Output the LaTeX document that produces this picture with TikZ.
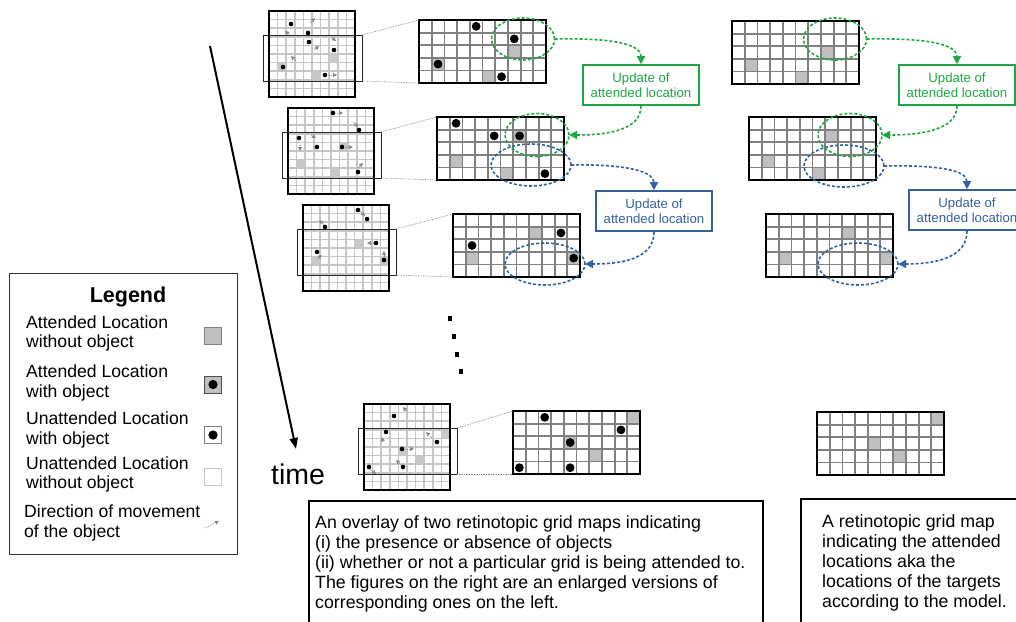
\documentclass[tikz,border=0pt]{standalone}
\usepackage{fontspec}
\setmainfont{Liberation Sans}
\usetikzlibrary{arrows.meta,shapes.geometric}
\definecolor{gline}{HTML}{7F7F7F}
\definecolor{cellg}{HTML}{BFBFBF}
\definecolor{sline}{HTML}{C6C6C6}
\definecolor{grn}{HTML}{1EA843}
\definecolor{blu}{HTML}{34629F}
\definecolor{arrg}{HTML}{8A8A8A}
\tikzset{
 bigframe/.style={draw=black, line width=1.8pt, minimum width=127pt, minimum height=63pt, inner sep=0pt, outer sep=0pt},
 smallframe/.style={draw=black, line width=2.2pt, minimum size=86pt, inner sep=0pt, outer sep=0pt},
 windowbox/.style={draw=black!85, line width=0.9pt, minimum width=99pt, minimum height=46pt, inner sep=0pt, outer sep=0pt},
 link/.style={draw=gray, densely dotted, line width=0.7pt},
 gdash/.style={draw=grn, line width=1.6pt, dash pattern=on 3pt off 2pt},
 bdash/.style={draw=blu, line width=1.6pt, dash pattern=on 3pt off 2pt},
 gell/.style={ellipse, gdash, inner sep=0pt, outer sep=0pt},
 bell/.style={ellipse, bdash, inner sep=0pt, outer sep=0pt},
 gupd/.style={draw=grn, line width=1.6pt, text=grn, minimum width=116pt, minimum height=40pt, align=center, font=\fontsize{13.2}{15}\selectfont, inner sep=0pt},
 bupd/.style={draw=blu, line width=1.6pt, text=blu, minimum width=116pt, minimum height=40pt, align=center, font=\fontsize{13.2}{15}\selectfont, inner sep=0pt},
 garrow/.style={-{Triangle[length=8pt,width=8pt]}},
 mv/.style={draw=arrg, densely dotted, line width=0.8pt, -{Triangle[length=4pt,width=4pt,fill=arrg]}},
 lgtext/.style={anchor=base west, inner sep=0pt, font=\fontsize{17.6}{20}\selectfont},
 bodytext/.style={anchor=base west, inner sep=0pt, font=\fontsize{17.75}{20}\selectfont},
 licon/.style={minimum size=17pt, inner sep=0pt, line width=0.9pt},
 dotsq/.style={fill=black, minimum width=4pt, minimum height=5pt, inner sep=0pt},
}
\newcommand\BigGrid[3]{%
 \begin{scope}[shift={#2}]
  \fill[white] (0,0) rectangle (127,63);
  \foreach \c/\r in {#3} \fill[cellg] (\c*12.7,\r*12.6) rectangle ++(12.7,12.6);
  \foreach \i in {1,...,9} \draw[gline, line width=1.8pt] (\i*12.7,0) -- (\i*12.7,63);
  \foreach \j in {1,...,4} \draw[gline, line width=1.8pt] (0,\j*12.6) -- (127,\j*12.6);
  \node[bigframe] (#1) at (63.5,31.5) {};
 \end{scope}}
\newcommand\BigDots[2]{%
 \begin{scope}[shift={#1}]
  \foreach \c/\r in {#2} \fill (\c*12.7+6.35,\r*12.6+6.3) circle (4.4pt);
 \end{scope}}
\newcommand\SmallGrid[4]{%
 \begin{scope}[shift={#3}]
  \fill[white] (0,0) rectangle (86,86);
  \foreach \c/\r in {#4} \fill[cellg!85] (\c*8.6,\r*8.6) rectangle ++(8.6,8.6);
  \foreach \i in {1,...,9} {\draw[sline, line width=1.7pt] (\i*8.6,0) -- (\i*8.6,86);
    \draw[sline, line width=1.7pt] (0,\i*8.6) -- (86,\i*8.6);}
  \node[smallframe] (#1) at (43,43) {};
  \node[windowbox] (#2) at (43.5,47) {};
 \end{scope}}
\newcommand\SDots[1]{\foreach \x/\y in {#1} \fill (\x,\y) circle (2.3pt);}
\begin{document}
\begin{tikzpicture}[x=1pt,y=-1pt]
\useasboundingbox (0,0) rectangle (1016,621);
\clip (0,0) rectangle (1016,621);

% ---------- small grids ----------
\SmallGrid{s1}{w1}{(269,11)}{7/5,1/6,5/7}
\SDots{291/24,308/33,309/42,334/50,283/67,325/75}
\draw[mv] (310,23) -- (315,18);
\draw[mv] (290,35) -- (285,31);
\draw[mv] (314,50) -- (319,46);
\draw[mv] (331,37) -- (336,41);
\draw[mv] (296,61) -- (291,56);
\draw[mv] (329,75) -- (337,75);

\SmallGrid{s2}{w2}{(288,108)}{6/4,1/6,5/7}
\SDots{333/113,359/130,299/138,317/147,342/147,358/172}
\draw[mv] (337,113) -- (343,113);
\draw[mv] (353,122) -- (358,127);
\draw[mv] (311,135) -- (316,138);
\draw[mv] (300,145) -- (300,151);
\draw[mv] (346,147) -- (353,147);
\draw[mv] (358,168) -- (363,163);

\SmallGrid{s3}{w3}{(303,205)}{6/4,1/6,9/6}
\SDots{358/210,367/219,325/227,376/243,317/252,384/260}
\draw[mv] (360,211) -- (365,216);
\draw[mv] (324,225) -- (319,220);
\draw[mv] (374,243) -- (367,243);
\draw[mv] (317,259) -- (322,255);
\draw[mv] (384,257) -- (384,251);

\SmallGrid{s4}{w4}{(364,404)}{9/3,4/5,6/6}
\SDots{394/416,386/432,437/442,402/449,403/467,369/467}
\draw[mv] (407,412) -- (403,407);
\draw[mv] (383,442) -- (382,437);
\draw[mv] (432,438) -- (426,432);
\draw[mv] (407,449) -- (414,449);
\draw[mv] (401,465) -- (396,460);
\draw[mv] (370,469) -- (376,474);

% ---------- enlarged grids ----------
\BigGrid{b1}{(419,20)}{7/2,1/3,5/4}
\BigDots{(419,20)}{4/0,7/1,1/3,6/4}
\BigGrid{b2}{(437,117)}{6/1,1/3,5/4}
\BigDots{(437,117)}{1/0,4/1,6/1,8/4}
\BigGrid{b3}{(453,214)}{6/1,1/3,9/3}
\BigDots{(453,214)}{8/1,1/2,9/3}
\BigGrid{b4}{(513,411)}{9/0,4/2,6/3}
\BigDots{(513,411)}{2/0,8/1,4/2,0/4,4/4}

\BigGrid{r1}{(732,21)}{7/2,1/3,5/4}
\BigGrid{r2}{(749,117)}{6/1,1/3,5/4}
\BigGrid{r3}{(766,214)}{6/1,1/3,9/3}
\BigGrid{r4}{(817,412)}{9/0,4/2,6/3}

% ---------- zoom links ----------
\foreach \n in {1,2,3,4} {
 \draw[link] (w\n.north east) -- (b\n.north west);
 \draw[link] (w\n.south east) -- (b\n.south west);
}

% ---------- ellipses ----------
\node[gell, minimum width=63pt, minimum height=42pt] (eg1) at (523,39) {};
\node[gell, minimum width=64pt, minimum height=43pt] (eg2) at (537,135) {};
\node[bell, minimum width=80pt, minimum height=42pt] (eb2) at (531,165) {};
\node[bell, minimum width=80pt, minimum height=42pt] (eb3) at (545,264) {};
\node[gell, minimum width=63pt, minimum height=42pt] (reg1) at (835,39) {};
\node[gell, minimum width=64pt, minimum height=43pt] (reg2) at (850,135) {};
\node[bell, minimum width=80pt, minimum height=42pt] (reb2) at (844,166) {};
\node[bell, minimum width=80pt, minimum height=42pt] (reb3) at (858,264) {};

% ---------- update boxes ----------
\node[gupd] (gu1) at (641,85) {Update of\\attended location};
\node[gupd] (gu2) at (957,85) {Update of\\attended location};
\node[bupd] (bu1) at (654,211) {Update of\\attended location};
\node[bupd] (bu2) at (967,210) {Update of\\attended location};

\draw[gdash, garrow] (eg1.east) .. controls +(50,-1) and +(0,-22) .. (gu1.north);
\draw[gdash, garrow] (gu1.south) .. controls +(0,24) and +(40,0) .. (eg2.east);
\draw[bdash, garrow] (eb2.east) .. controls +(50,-1) and +(0,-20) .. (bu1.north);
\draw[bdash, garrow] (bu1.south) .. controls +(0,26) and +(40,0) .. (eb3.east);
\draw[gdash, garrow] (reg1.east) .. controls +(50,-1) and +(0,-22) .. (gu2.north);
\draw[gdash, garrow] (gu2.south) .. controls +(0,24) and +(40,0) .. (reg2.east);
\draw[bdash, garrow] (reb2.east) .. controls +(50,-1) and +(0,-20) .. (bu2.north);
\draw[bdash, garrow] (bu2.south) .. controls +(0,26) and +(40,0) .. (reb3.east);

% ---------- time ----------
\coordinate (ts) at (210,46);
\coordinate (te) at (296,449);
\draw[line width=2pt, -{Triangle[length=11pt,width=8pt]}] (ts) -- (te);
\node[anchor=base west, inner sep=0pt, font=\fontsize{28.5}{30}\selectfont] (time) at (271,484) {time};

% ---------- vertical ellipsis ----------
\node[dotsq] (v1) at (450,318) {};
\node[dotsq] (v2) at (454,336) {};
\node[dotsq] (v3) at (457,354) {};
\node[dotsq] (v4) at (461,371) {};

% ---------- legend ----------
\node[draw=black!80, line width=1pt, minimum width=228pt, minimum height=281pt, anchor=north west, inner sep=0pt] (legend) at (9,273) {};
\node[anchor=base, inner sep=0pt, font=\bfseries\fontsize{21.5}{24}\selectfont] (lgt) at (128,302) {Legend};
\node[lgtext] (l1a) at (26,328) {Attended Location};
\node[lgtext] (l1b) at (26,347) {without object};
\node[lgtext] (l2a) at (26,377) {Attended Location};
\node[lgtext] (l2b) at (26,397) {with object};
\node[lgtext] (l3a) at (26,424) {Unattended Location};
\node[lgtext] (l3b) at (26,444) {with object};
\node[lgtext] (l4a) at (26,469) {Unattended Location};
\node[lgtext] (l4b) at (26,488) {without object};
\node[lgtext] (l5a) at (24,517) {Direction of movement};
\node[lgtext] (l5b) at (24,537) {of the object};
\node[licon, fill=cellg, draw=gline] (i1) at (212.5,335.5) {};
\node[licon, fill=cellg, draw=black!70] (i2) at (213,384.5) {};
\fill (i2.center) circle (4.6pt);
\node[licon, fill=white, draw=gline] (i3) at (213,435) {};
\fill (i3.center) circle (4.6pt);
\node[licon, fill=white, draw=sline] (i4) at (213,477) {};
\coordinate (ia) at (205,528);
\coordinate (ib) at (219,521);
\draw[mv] (ia) -- (ib);

% ---------- description boxes ----------
\node[draw=black, line width=1.6pt, minimum width=454pt, minimum height=160pt, anchor=north west, inner sep=0pt] (d1) at (308,500) {};
\node[bodytext] (d1a) at (315,528) {An overlay of two retinotopic grid maps indicating};
\node[bodytext] (d1b) at (315,548) {(i) the presence or absence of objects};
\node[bodytext] (d1c) at (315,568) {(ii) whether or not a particular grid is being attended to.};
\node[bodytext] (d1d) at (315,588) {The figures on the right are an enlarged versions of};
\node[bodytext] (d1e) at (315,608) {corresponding ones on the left.};

\node[draw=black, line width=1.6pt, minimum width=260pt, minimum height=160pt, anchor=north west, inner sep=0pt] (d2) at (800,498) {};
\node[bodytext] (d2a) at (822,527) {A retinotopic grid map};
\node[bodytext] (d2b) at (822,547) {indicating the attended};
\node[bodytext] (d2c) at (822,567) {locations aka the};
\node[bodytext] (d2d) at (822,587) {locations of the targets};
\node[bodytext] (d2e) at (822,607) {according to the model.};
\end{tikzpicture}
\end{document}
